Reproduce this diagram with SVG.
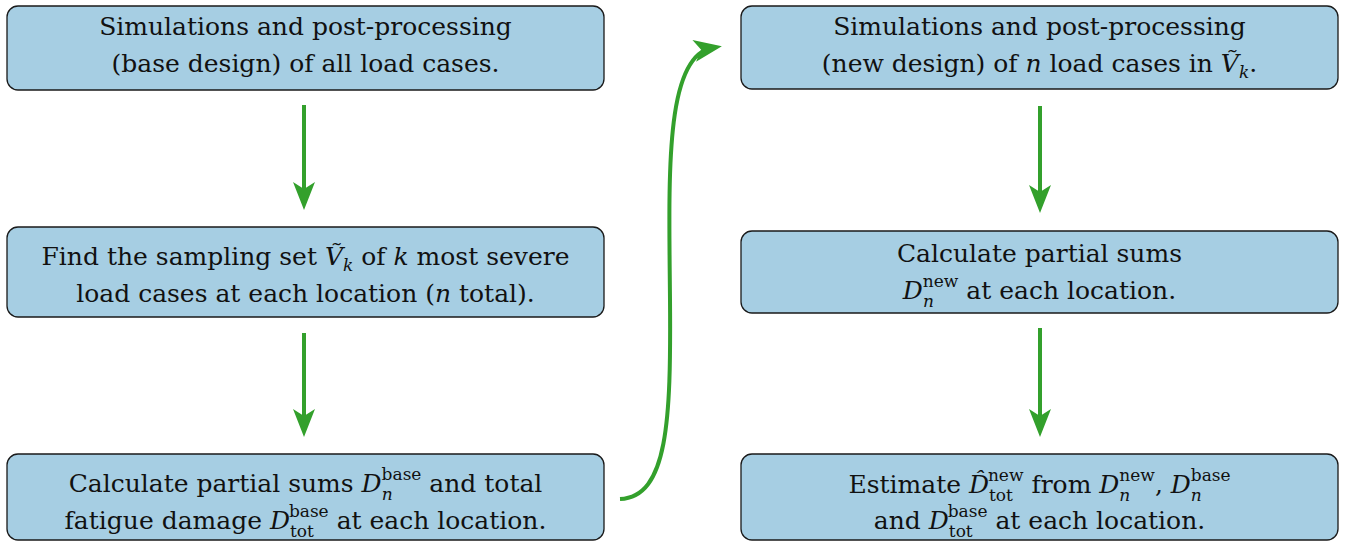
<svg xmlns="http://www.w3.org/2000/svg" width="1346" height="542" viewBox="0 0 1346 542">
<defs>
<style>
.box{fill:#a6cee3;stroke:#1a1a1a;stroke-width:1.3}
.t{font-family:"DejaVu Serif",serif;font-size:25px;fill:#111;text-anchor:middle}
.i{font-style:italic}
.s{font-size:17px}
.c{fill:none;stroke:#33a02c;stroke-width:4}
</style>
<marker id="ah" markerUnits="userSpaceOnUse" markerWidth="32" markerHeight="26" viewBox="-30 -13 32 26" refX="-10" refY="0" orient="auto">
<path d="M0,0 L-28,-11 L-21,0 L-28,11 Z" fill="#33a02c"/>
</marker>
</defs>
<g id="n1">
<rect class="box" x="7" y="6" width="597" height="84" rx="11"/>
<text class="t" x="305.5" y="35">Simulations and post-processing</text>
<text class="t" x="305.5" y="72">(base design) of all load cases.</text>
</g>
<g id="n2">
<rect class="box" x="7" y="227" width="597" height="90" rx="11"/>
<text class="t" x="305.5" y="265">Find the sampling set <tspan class="i">Ṽ</tspan><tspan class="i s" dy="6">k</tspan><tspan dy="-6"> of </tspan><tspan class="i">k</tspan> most severe</text>
<text class="t" x="305.5" y="302">load cases at each location (<tspan class="i">n</tspan> total).</text>
</g>
<g id="n3">
<rect class="box" x="7" y="454" width="597" height="86" rx="11"/>
<text class="t" x="305.5" y="492">Calculate partial sums <tspan class="i">D</tspan><tspan class="i s" dy="8">n</tspan><tspan class="s" dx="-11" dy="-20">base</tspan><tspan dy="12"> and total</tspan></text>
<text class="t" x="305.5" y="529">fatigue damage <tspan class="i">D</tspan><tspan class="s" dy="8">tot</tspan><tspan class="s" dx="-25" dy="-20">base</tspan><tspan dy="12"> at each location.</tspan></text>
</g>
<g id="n4">
<rect class="box" x="741" y="6" width="597" height="83" rx="11"/>
<text class="t" x="1039.5" y="35">Simulations and post-processing</text>
<text class="t" x="1039.5" y="72">(new design) of <tspan class="i">n</tspan> load cases in <tspan class="i">Ṽ</tspan><tspan class="i s" dy="6">k</tspan><tspan dy="-6">.</tspan></text>
</g>
<g id="n5">
<rect class="box" x="741" y="231" width="597" height="82" rx="11"/>
<text class="t" x="1039.5" y="262">Calculate partial sums</text>
<text class="t" x="1039.5" y="299"><tspan class="i">D</tspan><tspan class="i s" dy="8">n</tspan><tspan class="s" dx="-11" dy="-20">new</tspan><tspan dy="12"> at each location.</tspan></text>
</g>
<g id="n6">
<rect class="box" x="741" y="454" width="597" height="86" rx="11"/>
<text class="t" x="1039.5" y="493">Estimate <tspan class="i">D̂</tspan><tspan class="s" dy="8">tot</tspan><tspan class="s" dx="-25" dy="-20">new</tspan><tspan dy="12"> from </tspan><tspan class="i">D</tspan><tspan class="i s" dy="8">n</tspan><tspan class="s" dx="-11" dy="-20">new</tspan><tspan dy="12">, </tspan><tspan class="i">D</tspan><tspan class="i s" dy="8">n</tspan><tspan class="s" dx="-11" dy="-20">base</tspan></text>
<text class="t" x="1039.5" y="529">and <tspan class="i">D</tspan><tspan class="s" dy="8">tot</tspan><tspan class="s" dx="-25" dy="-20">base</tspan><tspan dy="12"> at each location.</tspan></text>
</g>
<g id="connectors">
<path class="c" d="M304,105 L304,200" marker-end="url(#ah)"/>
<path class="c" d="M304,333 L304,427" marker-end="url(#ah)"/>
<path class="c" d="M1040,106 L1040,203" marker-end="url(#ah)"/>
<path class="c" d="M1040,328 L1040,427" marker-end="url(#ah)"/>
<path class="c" d="M620,499 C668,497 671,420 670,300 C669,180 664,56 712,48" marker-end="url(#ah)"/>
</g>
</svg>
